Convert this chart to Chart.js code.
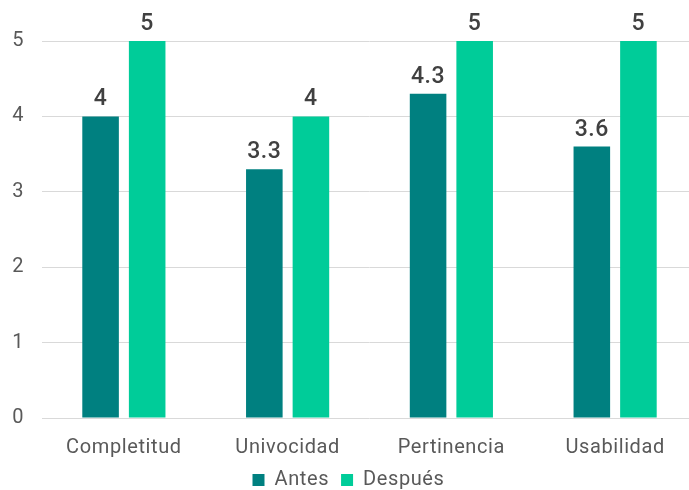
<!DOCTYPE html>
<html>
<head>
<meta charset="utf-8">
<script src="https://cdn.jsdelivr.net/npm/chart.js@4/dist/chart.umd.min.js"></script>
<style>
  html, body { margin: 0; padding: 0; overflow: hidden; background: #fff; }
  #wrap { width: 697px; height: 500px; }
</style>
</head>
<body>
<div id="wrap"><canvas id="barChart"></canvas></div>
<script>
const categorias = ['Completitud', 'Univocidad', 'Pertinencia', 'Usabilidad'];
const antes = [4, 3.3, 4.3, 3.6];
const despues = [5, 4, 5, 5];
const yTicks = [0, 1, 2, 3, 4, 5];

// letra un poco más espaciada (como la fuente original)
const espaciado = {
    id: 'espaciado',
    beforeLayout(chart) { chart.ctx.letterSpacing = '0.6px'; },
    beforeDraw(chart) { chart.ctx.letterSpacing = '0.6px'; }
};

// etiquetas de valor encima de cada barra
const etiquetas = {
    id: 'etiquetas',
    afterDatasetsDraw(chart) {
        const ctx = chart.ctx;
        ctx.save();
        ctx.font = '500 23px Roboto';
        ctx.fillStyle = '#404040';
        ctx.textAlign = 'center';
        ctx.textBaseline = 'alphabetic';
        chart.data.datasets.forEach((ds, i) => {
            chart.getDatasetMeta(i).data.forEach((bar, j) => {
                ctx.fillText(String(ds.data[j]), bar.x, bar.y - 11);
            });
        });
        ctx.restore();
    }
};

window.onload = function() {
    const ctx = document.getElementById('barChart').getContext('2d');
    new Chart(ctx, {
        type: 'bar',
        data: {
            labels: categorias,
            datasets: [{
                label: 'Antes',
                data: antes,
                backgroundColor: '#008080'
            }, {
                label: 'Después',
                data: despues,
                backgroundColor: '#00CC99'
            }]
        },
        options: {
            responsive: true,
            maintainAspectRatio: false,
            animation: false,
            layout: { padding: { top: 41, right: 0, left: 0, bottom: 0 } },
            datasets: {
                bar: { categoryPercentage: 0.569, barPercentage: 0.785 }
            },
            scales: {
                x: {
                    afterFit(scale) { scale.height = 40; },
                    grid: { display: false },
                    border: { display: false },
                    ticks: {
                        font: { family: 'Roboto', size: 20 },
                        color: '#595959',
                        padding: 10
                    }
                },
                y: {
                    min: 0,
                    max: 5,
                    afterBuildTicks(scale) {
                        scale.ticks = yTicks.map(v => ({ value: v }));
                    },
                    afterFit(scale) { scale.width = 42; },
                    grid: { color: '#D9D9D9', drawTicks: false },
                    border: { display: false },
                    ticks: {
                        font: { family: 'Roboto', size: 20 },
                        color: '#595959',
                        padding: 18
                    }
                }
            },
            plugins: {
                legend: {
                    position: 'bottom',
                    labels: {
                        boxWidth: 12,
                        boxHeight: 12,
                        padding: 12,
                        font: { family: 'Roboto', size: 20 },
                        color: '#595959'
                    }
                },
                tooltip: { enabled: false }
            }
        },
        plugins: [espaciado, etiquetas]
    });
};
</script>
</body>
</html>
